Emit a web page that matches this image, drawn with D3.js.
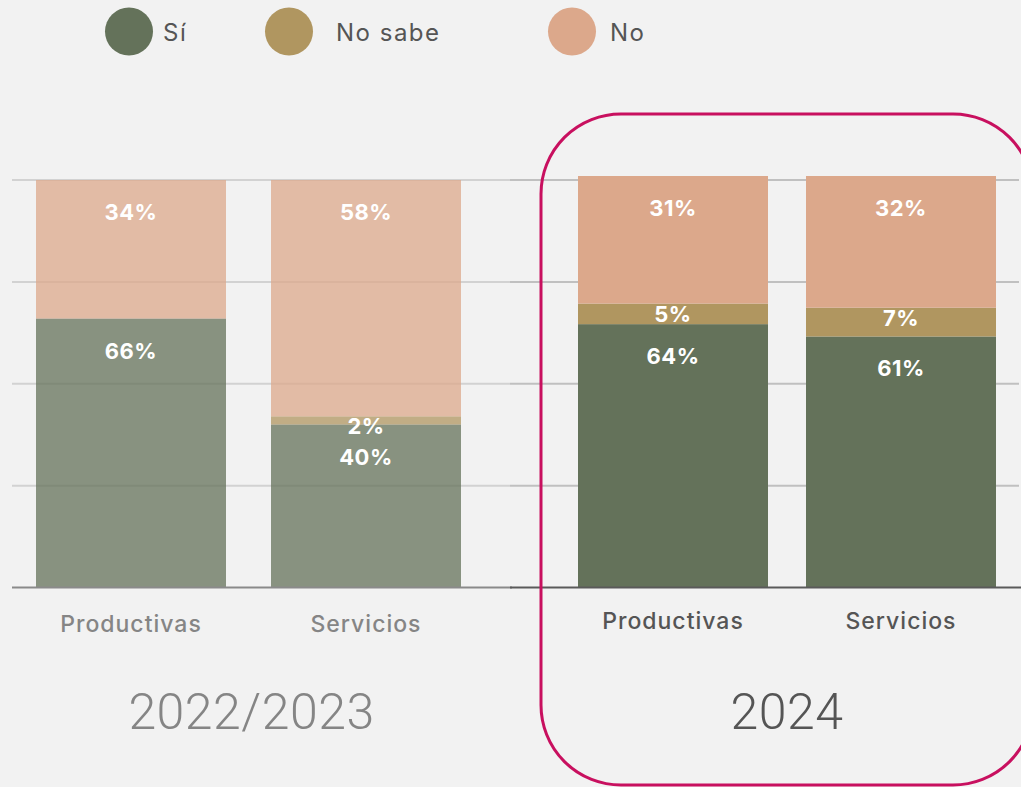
<!DOCTYPE html>
<html>
<head>
<meta charset="utf-8">
<script src="https://cdn.jsdelivr.net/npm/d3@7"></script>
<style>
  html, body { margin: 0; padding: 0; background: #f2f2f2; }
  svg { display: block; }
</style>
</head>
<body>
<div id="chart"></div>
<script>
// ---- data ----
const periods = ["2022/2023", "2024"];
const categories = ["Productivas", "Servicios"];
const seriesNames = ["Sí", "No sabe", "No"];
// values per period, per category: [Sí, No sabe, No]
const si_2022 = [66, 40];
const nosabe_2022 = [0, 2];
const no_2022 = [34, 58];
const si_2024 = [64, 61];
const nosabe_2024 = [5, 7];
const no_2024 = [31, 32];
const gridTicks = [25, 50, 75, 100];

const colors = ["#64725a", "#b09660", "#dca88b"];

const W = 1021, H = 787;
const svg = d3.select("#chart").append("svg").attr("width", W).attr("height", H);
svg.append("rect").attr("width", W).attr("height", H).attr("fill", "#f2f2f2");

const FONT = "Inter, 'Open Sans', sans-serif";

// panel layouts
const panels = [
  { period: periods[0], si: si_2022, ns: nosabe_2022, no: no_2022,
    xr: [36, 461], pad: 45 / 235, yTop: 180, gridX: [12, 510], gridColor: "#d2d2d2",
    baseColor: "#8a8a8a", textColor: "#858585", opacity: 0.75, catY: 632 },
  { period: periods[1], si: si_2024, ns: nosabe_2024, no: no_2024,
    xr: [578, 996], pad: 38 / 228, yTop: 176, gridX: [510, 1019], gridColor: "#c0c0c0",
    baseColor: "#5a5a5a", textColor: "#555555", opacity: 1, catY: 629 }
];
const baseY = 587.5;

panels.forEach(p => {
  const x = d3.scaleBand().domain(categories).range(p.xr).paddingInner(p.pad).paddingOuter(0);
  const yGrid = d3.scaleLinear().domain([0, 100]).range([baseY, 180]);
  const y = d3.scaleLinear().domain([0, 100]).range([baseY, p.yTop]);
  const g = svg.append("g");

  // gridlines
  g.selectAll(".grid").data(gridTicks).join("line")
    .attr("x1", p.gridX[0]).attr("x2", p.gridX[1])
    .attr("y1", d => yGrid(d)).attr("y2", d => yGrid(d))
    .attr("stroke", p.gridColor).attr("stroke-width", 2);

  const rows = categories.map((c, i) => ({ cat: c, "Sí": p.si[i], "No sabe": p.ns[i], "No": p.no[i] }));
  const stack = d3.stack().keys(seriesNames)(rows);

  stack.forEach((layer, si) => {
    g.selectAll(null).data(layer).join("rect")
      .attr("x", d => x(d.data.cat))
      .attr("width", x.bandwidth())
      .attr("y", d => y(d[1]))
      .attr("height", d => y(d[0]) - y(d[1]))
      .attr("fill", colors[si])
      .attr("fill-opacity", p.opacity);
  });

  // labels
  stack.forEach((layer, si) => {
    g.selectAll(null).data(layer.filter(d => d[1] - d[0] > 0)).join("text")
      .attr("x", d => x(d.data.cat) + x.bandwidth() / 2)
      .attr("y", d => {
        const top = y(d[1]), h = y(d[0]) - y(d[1]);
        return h > 50 ? top + 40 : top + 18;
      })
      .attr("text-anchor", "middle")
      .attr("fill", "#ffffff")
      .attr("font-family", FONT)
      .attr("font-weight", 700)
      .attr("font-size", 22)
      .attr("letter-spacing", 0.5)
      .text(d => (d[1] - d[0]) + "%");
  });

  // baseline
  g.append("line").attr("x1", p.gridX[0]).attr("x2", p.gridX[1] + 2)
    .attr("y1", baseY).attr("y2", baseY)
    .attr("stroke", p.baseColor).attr("stroke-width", 2);

  // category labels
  g.selectAll(null).data(categories).join("text")
    .attr("x", d => x(d) + x.bandwidth() / 2)
    .attr("y", p.catY)
    .attr("text-anchor", "middle")
    .attr("fill", p.textColor)
    .attr("font-family", FONT)
    .attr("font-weight", 500)
    .attr("font-size", 23)
    .attr("letter-spacing", 1)
    .text(d => d);

  // period label
  g.append("text")
    .attr("x", (p.xr[0] + p.xr[1]) / 2 + (p === panels[0] ? 3 : -0))
    .attr("y", 729)
    .attr("text-anchor", "middle")
    .attr("fill", p.textColor)
    .attr("font-family", "Roboto, sans-serif")
    .attr("font-weight", 300)
    .attr("font-size", 50)
    .attr("letter-spacing", 0.5)
    .text(p.period);
});

// highlight frame
svg.append("rect")
  .attr("x", 541).attr("y", 114).attr("width", 492).attr("height", 671)
  .attr("rx", 80).attr("ry", 80)
  .attr("fill", "none").attr("stroke", "#c8105f").attr("stroke-width", 3);

// legend
const legendX = [129, 289, 572];
const lg = svg.append("g");
seriesNames.forEach((s, i) => {
  lg.append("circle").attr("cx", legendX[i]).attr("cy", 31.5).attr("r", 24).attr("fill", colors[i]);
});
const legendTextX = [163, 336, 610];
seriesNames.forEach((s, i) => {
  lg.append("text").attr("x", legendTextX[i]).attr("y", 41)
    .attr("fill", "#555555")
    .attr("font-family", FONT)
    .attr("font-weight", 400)
    .attr("font-size", 24)
    .attr("letter-spacing", 1.5)
    .text(s);
});
</script>
</body>
</html>
